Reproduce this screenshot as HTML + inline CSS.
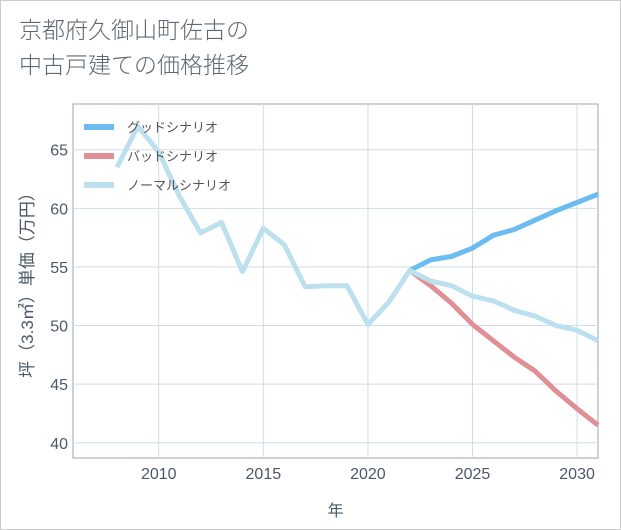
<!DOCTYPE html>
<html><head><meta charset="utf-8">
<style>
body{margin:0;background:#fff;}
#wrap{position:relative;width:619px;height:528px;border:1px solid #ccc;background:#fff;font-family:"Liberation Sans","Noto Sans CJK JP",sans-serif;}
.title{position:absolute;left:18px;top:12px;font-size:23px;line-height:35px;color:#606870;font-weight:300;}
</style></head><body>
<div id="wrap">
<div class="title">京都府久御山町佐古の<br>中古戸建ての価格推移</div>
<svg id="chart" width="619" height="528" style="position:absolute;left:0;top:0"></svg>
</div>
<script>
const years=[2008,2009,2010,2011,2012,2013,2014,2015,2016,2017,2018,2019,2020,2021,2022];
const normalHist=[63.5,67.0,64.8,61.0,57.9,58.8,54.6,58.3,56.9,53.3,53.4,53.4,50.1,52.0,54.7];
const futureYears=[2022,2023,2024,2025,2026,2027,2028,2029,2030,2031];
const goodVals=[54.7,55.6,55.9,56.6,57.7,58.2,59.0,59.8,60.5,61.2];
const badVals=[54.7,53.4,51.9,50.1,48.7,47.3,46.1,44.4,42.9,41.5];
const normalVals=[54.7,53.8,53.4,52.5,52.1,51.3,50.8,50.0,49.6,48.7];
const xTicks=[2010,2015,2020,2025,2030];
const yTicks=[40,45,50,55,60,65];
const legendLabels=["グッドシナリオ","バッドシナリオ","ノーマルシナリオ"];

const NS="http://www.w3.org/2000/svg";
const svg=document.getElementById('chart');
const L=72,R=597,T=103,B=457;
const xMin=2005.9,xMax=2031.0,yMin=38.7,yMax=68.9;
const X=v=>L+(v-xMin)/(xMax-xMin)*(R-L);
const Y=v=>B-(v-yMin)/(yMax-yMin)*(B-T);
function el(tag,attrs){const e=document.createElementNS(NS,tag);for(const k in attrs)e.setAttribute(k,attrs[k]);svg.appendChild(e);return e;}

const bg=el('rect',{x:L,y:T,width:R-L,height:B-T,fill:'#fff',stroke:'#9aa6b4','stroke-width':1});


yTicks.forEach(t=>{
  const g=el('line',{x1:L,x2:R,y1:Y(t),y2:Y(t),stroke:'#d0dde8','stroke-width':1});
  
  
  const tx=el('text',{x:L-5,y:Y(t)+6,'text-anchor':'end','font-size':16,fill:'#4a5868'});
  tx.textContent=t;
  
  
});
xTicks.forEach(t=>{
  const g=el('line',{x1:X(t),x2:X(t),y1:T,y2:B,stroke:'#d0dde8','stroke-width':1});
  
  
  const tx=el('text',{x:X(t),y:B+21,'text-anchor':'middle','font-size':16,fill:'#4a5868'});
  tx.textContent=t;
  
  
});
const xt=el('text',{x:(L+R)/2,y:515,'text-anchor':'middle','font-size':16,fill:'#4a5868'});
xt.textContent='年';


const yt=el('text',{x:0,y:0,'text-anchor':'middle','font-size':17,fill:'#4a5868',transform:`translate(32,${(T+B)/2}) rotate(-90)`});
yt.textContent='坪（3.3㎡）単価（万円）';



function line(xs,ys,color,name){
  const p=el('polyline',{points:xs.map((x,i)=>X(x)+','+Y(ys[i])).join(' '),fill:'none',stroke:color,'stroke-width':5,'stroke-linejoin':'round'});
  
  
}
line(futureYears,goodVals,'#6bbcf0','good-scenario-line');
line(futureYears,badVals,'#e08f96','bad-scenario-line');
line(years.concat(futureYears.slice(1)),normalHist.concat(normalVals.slice(1)),'#bde0ee','normal-scenario-line');

const legColors=['#6bbcf0','#e08f96','#bde0ee'];
legendLabels.forEach((lab,i)=>{
  const y=126+i*29;
  const s=el('line',{x1:83,x2:113,y1:y,y2:y,stroke:legColors[i],'stroke-width':6});
  
  
  const tx=el('text',{x:126,y:y+5,'font-size':13,fill:'#555'});
  tx.textContent=lab;
  
  
});
</script>
</body></html>
